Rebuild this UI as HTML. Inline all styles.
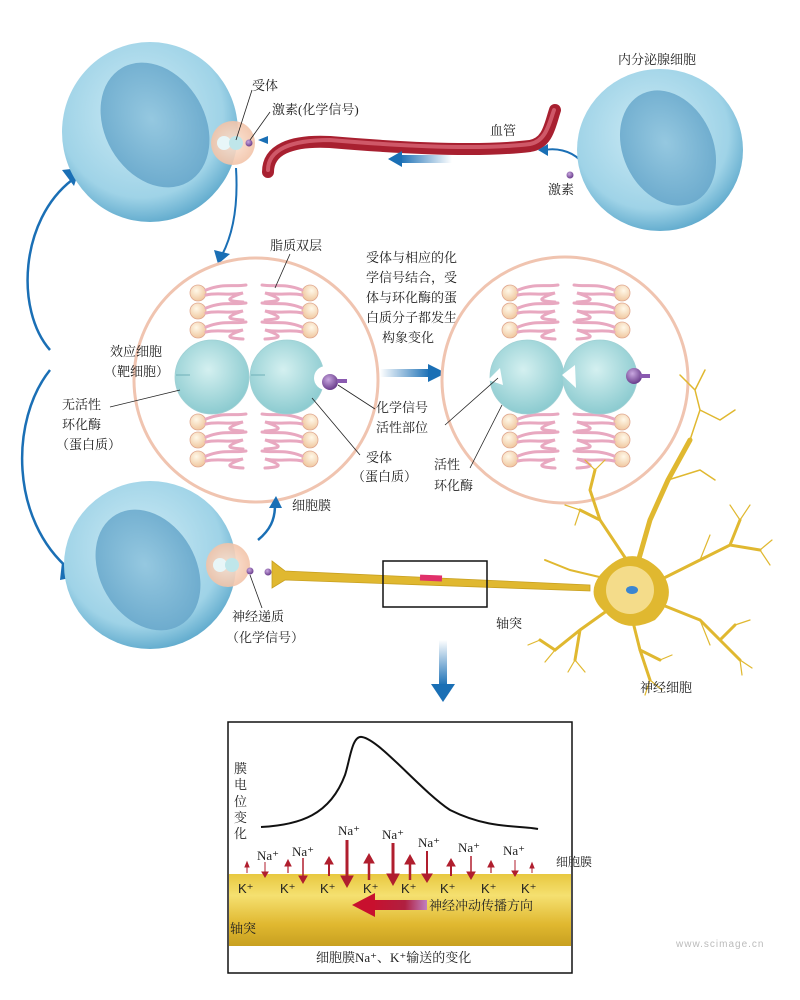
<!DOCTYPE html>
<html><head><meta charset="utf-8"><style>
html,body{margin:0;padding:0;background:#fff}
svg{display:block}
text{font-family:"Liberation Serif","Noto Serif CJK SC","Noto Sans CJK SC",serif;font-size:13px;fill:#222}
.s{font-family:"Liberation Sans","Noto Sans CJK SC",sans-serif}
</style></head><body>
<svg width="800" height="1000" viewBox="0 0 800 1000" xmlns="http://www.w3.org/2000/svg">
<defs>
<radialGradient id="cell" cx="45%" cy="40%" r="62%">
<stop offset="0" stop-color="#cdebf5"/><stop offset="0.75" stop-color="#9fd3e7"/><stop offset="1" stop-color="#5ea9cc"/></radialGradient>
<radialGradient id="nuc" cx="50%" cy="45%" r="60%">
<stop offset="0" stop-color="#95c8e0"/><stop offset="1" stop-color="#6aa9cc"/></radialGradient>
<radialGradient id="prot" cx="45%" cy="40%" r="60%">
<stop offset="0" stop-color="#d4f0f0"/><stop offset="1" stop-color="#8ccbd0"/></radialGradient>
<radialGradient id="head" cx="40%" cy="35%" r="65%">
<stop offset="0" stop-color="#fff8e8"/><stop offset="1" stop-color="#f0c8a0"/></radialGradient>
<radialGradient id="purp" cx="40%" cy="35%" r="65%">
<stop offset="0" stop-color="#c9a8e0"/><stop offset="1" stop-color="#6a3d8c"/></radialGradient>
<radialGradient id="rec" cx="50%" cy="50%" r="50%">
<stop offset="0" stop-color="#fbe3d3"/><stop offset="1" stop-color="#f2c3a8"/></radialGradient>
<linearGradient id="axon" x1="0" y1="0" x2="0" y2="1">
<stop offset="0" stop-color="#e8c840"/><stop offset="0.3" stop-color="#f5e070"/><stop offset="0.7" stop-color="#e0b830"/><stop offset="1" stop-color="#c8a020"/></linearGradient>
<linearGradient id="harrow" x1="0" y1="0" x2="1" y2="0">
<stop offset="0" stop-color="#c8102e"/><stop offset="0.6" stop-color="#b02040"/><stop offset="1" stop-color="#c080c0"/></linearGradient>
<linearGradient id="bar" x1="0" y1="0" x2="1" y2="0">
<stop offset="0" stop-color="#1a6fb5" stop-opacity="0"/><stop offset="1" stop-color="#1a6fb5"/></linearGradient>
<linearGradient id="bard" x1="0" y1="0" x2="0" y2="1">
<stop offset="0" stop-color="#1a6fb5" stop-opacity="0"/><stop offset="1" stop-color="#1a6fb5"/></linearGradient>
<g id="lipL">
<circle cx="0" cy="0" r="8" fill="url(#head)" stroke="#e0a890" stroke-width="0.8"/>
<path d="M8,-3 C25,-10 35,-6 48,-8 M8,2 C20,-1 30,3 45,0 C30,5 25,8 45,9" fill="none" stroke="#e8a8c0" stroke-width="3" stroke-linecap="round"/>
</g>
<g id="lipR">
<use href="#lipL" transform="scale(-1,1)"/>
</g>
<g id="bilayer">
<use href="#lipL" x="0" y="0"/><use href="#lipL" x="0" y="18"/><use href="#lipL" x="0" y="37"/>
<use href="#lipR" x="112" y="0"/><use href="#lipR" x="112" y="18"/><use href="#lipR" x="112" y="37"/>
<use href="#lipL" x="0" y="129"/><use href="#lipL" x="0" y="147"/><use href="#lipL" x="0" y="166"/>
<use href="#lipR" x="112" y="129"/><use href="#lipR" x="112" y="147"/><use href="#lipR" x="112" y="166"/>
</g>
</defs>

<!-- left curved arrows -->
<path d="M72,180 C20,220 15,310 50,350" fill="none" stroke="#1a6fb5" stroke-width="2.5"/>
<path d="M50,370 C10,420 10,520 70,570" fill="none" stroke="#1a6fb5" stroke-width="2.5"/>
<polygon points="62,170 80,168 74,186" fill="#1a6fb5"/>
<polygon points="62,562 80,576 60,580" fill="#1a6fb5"/>

<!-- top target cell -->
<ellipse cx="150" cy="132" rx="88" ry="90" fill="url(#cell)"/>
<ellipse cx="155" cy="125" rx="50" ry="66" transform="rotate(-30 155 125)" fill="url(#nuc)"/>
<circle cx="233" cy="143" r="22" fill="url(#rec)" opacity="0.9"/>
<circle cx="224" cy="143" r="7" fill="#e8f6f8"/><circle cx="236" cy="143" r="7" fill="#bfe6ea"/>
<circle cx="249" cy="143" r="3.5" fill="url(#purp)"/>
<line x1="236" y1="140" x2="252" y2="90" stroke="#222" stroke-width="0.8"/>
<line x1="250" y1="140" x2="270" y2="112" stroke="#222" stroke-width="0.8"/>
<text x="252" y="90">受体</text>
<text x="272" y="114">激素(化学信号)</text>
<path d="M236,168 C238,200 235,230 222,255" fill="none" stroke="#1a6fb5" stroke-width="2"/>
<polygon points="214,250 230,254 218,264" fill="#1a6fb5"/>
<polygon points="258,140 268,136 268,144" fill="#1a6fb5"/>

<!-- blood vessel -->
<path d="M268,172 C268,150 290,140 330,142 C400,148 480,152 530,146 C548,143 550,125 555,110" fill="none" stroke="#a82030" stroke-width="12" stroke-linecap="round"/>
<path d="M268,170 C268,150 290,140 330,140 C400,146 480,150 530,144 C546,141 549,124 554,110" fill="none" stroke="#e07080" stroke-width="4" stroke-linecap="round" opacity="0.7"/>
<text x="490" y="135">血管</text>
<rect x="400" y="155" width="52" height="8" fill="url(#bar)" transform="rotate(180 426 159)"/>
<polygon points="388,159 402,151 402,167" fill="#1a6fb5"/>
<path d="M580,160 C570,150 555,148 545,150" fill="none" stroke="#1a6fb5" stroke-width="2"/>
<polygon points="538,150 548,144 548,156" fill="#1a6fb5"/>
<circle cx="570" cy="175" r="3.5" fill="url(#purp)"/>
<text x="548" y="194">激素</text>

<!-- endocrine cell -->
<ellipse cx="660" cy="150" rx="83" ry="81" fill="url(#cell)"/>
<ellipse cx="668" cy="148" rx="45" ry="60" transform="rotate(-25 668 148)" fill="url(#nuc)"/>
<text x="618" y="64">内分泌腺细胞</text>

<!-- left big circle -->
<circle cx="256" cy="380" r="122" fill="#fff" stroke="#f0c4b0" stroke-width="3"/>
<use href="#bilayer" x="198" y="293"/>
<circle cx="212" cy="377" r="37" fill="url(#prot)" stroke="#9fd0d4" stroke-width="0.8"/>
<line x1="176" y1="375" x2="190" y2="375" stroke="#6fb0b8" stroke-width="1"/>
<circle cx="287" cy="377" r="37" fill="url(#prot)" stroke="#9fd0d4" stroke-width="0.8"/>
<line x1="251" y1="375" x2="265" y2="375" stroke="#6fb0b8" stroke-width="1"/>
<circle cx="326" cy="378" r="12" fill="#fff"/>
<circle cx="330" cy="382" r="8" fill="url(#purp)"/>
<rect x="337" y="379" width="10" height="4" fill="#8a5ab0"/>
<text x="270" y="250">脂质双层</text>
<line x1="290" y1="254" x2="275" y2="288" stroke="#222" stroke-width="0.8"/>
<text x="110" y="356">效应细胞</text>
<text x="104" y="376">（靶细胞）</text>
<text x="62" y="409">无活性</text>
<text x="62" y="429">环化酶</text>
<text x="56" y="449">（蛋白质）</text>
<line x1="110" y1="407" x2="180" y2="390" stroke="#222" stroke-width="0.8"/>
<line x1="338" y1="385" x2="375" y2="409" stroke="#222" stroke-width="0.8"/>
<line x1="312" y1="398" x2="360" y2="455" stroke="#222" stroke-width="0.8"/>
<text x="376" y="412">化学信号</text>
<text x="376" y="432">活性部位</text>
<text x="366" y="462">受体</text>
<text x="352" y="481">（蛋白质）</text>
<text x="292" y="510">细胞膜</text>
<path d="M258,540 C270,530 275,520 275,505" fill="none" stroke="#1a6fb5" stroke-width="2.5"/>
<polygon points="269,508 276,496 282,508" fill="#1a6fb5"/>

<!-- middle text -->
<text x="366" y="262">受体与相应的化</text>
<text x="366" y="282">学信号结合，受</text>
<text x="366" y="302">体与环化酶的蛋</text>
<text x="366" y="322">白质分子都发生</text>
<text x="382" y="342">构象变化</text>
<rect x="380" y="369" width="50" height="8" fill="url(#bar)"/>
<polygon points="428,364 446,373 428,382" fill="#1a6fb5"/>

<!-- right big circle -->
<circle cx="565" cy="380" r="123" fill="#fff" stroke="#f0c4b0" stroke-width="3"/>
<use href="#bilayer" x="510" y="293"/>
<circle cx="527" cy="377" r="37" fill="url(#prot)" stroke="#9fd0d4" stroke-width="0.8"/>
<polygon points="488,380 500,368 503,385" fill="#fff"/>
<circle cx="600" cy="377" r="37" fill="url(#prot)" stroke="#9fd0d4" stroke-width="0.8"/>
<polygon points="562,375 575,365 576,388" fill="#fff"/>
<circle cx="634" cy="376" r="8" fill="url(#purp)"/>
<rect x="640" y="374" width="10" height="4" fill="#8a5ab0"/>
<line x1="445" y1="425" x2="498" y2="378" stroke="#222" stroke-width="0.8"/>
<line x1="470" y1="468" x2="502" y2="405" stroke="#222" stroke-width="0.8"/>
<text x="434" y="469">活性</text>
<text x="434" y="490">环化酶</text>

<!-- bottom cell -->
<ellipse cx="150" cy="565" rx="86" ry="84" fill="url(#cell)"/>
<ellipse cx="148" cy="570" rx="48" ry="64" transform="rotate(-30 148 570)" fill="url(#nuc)"/>
<circle cx="228" cy="565" r="22" fill="url(#rec)" opacity="0.9"/>
<circle cx="220" cy="565" r="7" fill="#e8f6f8"/><circle cx="232" cy="565" r="7" fill="#bfe6ea"/>
<circle cx="250" cy="571" r="3.5" fill="url(#purp)"/>
<circle cx="268" cy="572" r="3.5" fill="url(#purp)"/>
<line x1="250" y1="575" x2="262" y2="608" stroke="#222" stroke-width="0.8"/>
<text x="232" y="621">神经递质</text>
<text x="226" y="642">（化学信号）</text>

<!-- axon & neuron -->
<path d="M272,561 L285,571 L590,585 L590,591 L285,580 L272,588 Z" fill="#e0b830" stroke="#c8a020" stroke-width="0.8"/>
<rect x="420" y="575" width="22" height="6" fill="#e0306a" transform="rotate(2.5 430 578)"/>
<rect x="383" y="561" width="104" height="46" fill="none" stroke="#111" stroke-width="1.5"/>
<text x="496" y="628">轴突</text>
<g stroke="#e0b830" fill="none" stroke-linecap="round">
<path d="M630,590 L650,520 L668,480 L690,440" stroke-width="5"/>
<path d="M668,480 L700,470 M690,440 L700,410 L695,390 M700,410 L720,420 M695,390 L705,370 M695,390 L680,375 M720,420 L735,410 M700,470 L715,480" stroke-width="1.5"/>
<path d="M640,580 L600,520 L590,490 M600,520 L580,510 M590,490 L595,470" stroke-width="3"/>
<path d="M580,510 L565,505 M580,510 L575,525 M595,470 L585,460 M595,470 L605,460" stroke-width="1.2"/>
<path d="M650,585 L700,560 L730,545 L760,550 M730,545 L740,520" stroke-width="3"/>
<path d="M760,550 L772,540 M760,550 L770,565 M740,520 L750,505 M740,520 L730,505 M700,560 L710,535" stroke-width="1.2"/>
<path d="M650,600 L700,620 L720,640 L740,660 M720,640 L735,625" stroke-width="3"/>
<path d="M740,660 L752,668 M740,660 L742,675 M735,625 L750,620 M700,620 L710,645" stroke-width="1.2"/>
<path d="M630,610 L640,650 L650,680 M640,650 L660,660" stroke-width="3"/>
<path d="M650,680 L645,695 M650,680 L662,690 M660,660 L672,655" stroke-width="1.2"/>
<path d="M615,605 L580,630 L555,650 L540,640 M580,630 L575,660" stroke-width="3"/>
<path d="M555,650 L545,662 M540,640 L528,645 M575,660 L568,672 M575,660 L585,672" stroke-width="1.2"/>
<path d="M612,580 L570,570 L545,560" stroke-width="2"/>
</g>
<path d="M600,575 Q630,540 660,570 Q680,595 655,620 Q625,635 605,612 Q585,595 600,575 Z" fill="#e0b830"/>
<circle cx="630" cy="590" r="24" fill="#f4dc8a"/>
<ellipse cx="632" cy="590" rx="6" ry="4" fill="#3b86d0"/>
<text x="640" y="692">神经细胞</text>
<rect x="439" y="640" width="8" height="46" fill="url(#bard)"/>
<polygon points="431,684 455,684 443,702" fill="#1a6fb5"/>

<!-- bottom box -->
<rect x="228" y="722" width="344" height="251" fill="#fff" stroke="#111" stroke-width="1.5"/>
<path d="M261,827 C300,825 330,815 345,775 C350,760 352,735 362,737 C380,740 420,790 450,810 C490,830 520,825 538,829" fill="none" stroke="#111" stroke-width="2"/>
<text x="234" y="773">膜</text><text x="234" y="789">电</text><text x="234" y="806">位</text><text x="234" y="822">变</text><text x="234" y="838">化</text>
<rect x="229" y="874" width="342" height="72" fill="url(#axon)"/>
<text x="556" y="866" style="font-size:12px">细胞膜</text>
<g class="s" style="font-size:14px">
<text x="238" y="893" class="s" fill="#111">K⁺</text><text x="280" y="893" class="s">K⁺</text><text x="320" y="893" class="s">K⁺</text><text x="363" y="893" class="s">K⁺</text><text x="401" y="893" class="s">K⁺</text><text x="440" y="893" class="s">K⁺</text><text x="481" y="893" class="s">K⁺</text><text x="521" y="893" class="s">K⁺</text>
</g>
<text x="257" y="860">Na⁺</text><text x="292" y="856">Na⁺</text><text x="338" y="835">Na⁺</text><text x="382" y="839">Na⁺</text><text x="418" y="847">Na⁺</text><text x="458" y="852">Na⁺</text><text x="503" y="855">Na⁺</text>
<g fill="#b01e2e" stroke="#b01e2e">
<line x1="265" y1="862" x2="265" y2="874" stroke-width="1"/><polygon points="262,872 268,872 265,877"/>
<line x1="303" y1="858" x2="303" y2="880" stroke-width="1.5"/><polygon points="299,876 307,876 303,883"/>
<line x1="347" y1="840" x2="347" y2="882" stroke-width="3"/><polygon points="341,876 353,876 347,887"/>
<line x1="393" y1="843" x2="393" y2="880" stroke-width="3"/><polygon points="387,874 399,874 393,885"/>
<line x1="427" y1="851" x2="427" y2="878" stroke-width="2"/><polygon points="422,874 432,874 427,882"/>
<line x1="471" y1="856" x2="471" y2="876" stroke-width="1.5"/><polygon points="467,872 475,872 471,879"/>
<line x1="515" y1="860" x2="515" y2="874" stroke-width="1"/><polygon points="512,871 518,871 515,876"/>
<line x1="247" y1="873" x2="247" y2="866" stroke-width="1"/><polygon points="245,867 249,867 247,862"/>
<line x1="288" y1="873" x2="288" y2="864" stroke-width="1.2"/><polygon points="285,866 291,866 288,860"/>
<line x1="329" y1="876" x2="329" y2="862" stroke-width="2"/><polygon points="325,864 333,864 329,857"/>
<line x1="369" y1="880" x2="369" y2="860" stroke-width="2.5"/><polygon points="364,863 374,863 369,854"/>
<line x1="410" y1="880" x2="410" y2="862" stroke-width="2.5"/><polygon points="405,864 415,864 410,855"/>
<line x1="451" y1="876" x2="451" y2="864" stroke-width="2"/><polygon points="447,866 455,866 451,859"/>
<line x1="491" y1="873" x2="491" y2="866" stroke-width="1.2"/><polygon points="488,867 494,867 491,861"/>
<line x1="532" y1="873" x2="532" y2="867" stroke-width="1"/><polygon points="530,868 534,868 532,863"/>
</g>
<rect x="372" y="900" width="55" height="10" fill="url(#harrow)"/>
<polygon points="352,905 375,893 375,917" fill="#c8102e"/>
<text x="429" y="910">神经冲动传播方向</text>
<text x="230" y="933">轴突</text>
<text x="316" y="962">细胞膜Na⁺、K⁺输送的变化</text>
<text x="676" y="947" class="s" style="font-size:10px;fill:#bbb;letter-spacing:1px">www.scimage.cn</text>
</svg>
</body></html>
